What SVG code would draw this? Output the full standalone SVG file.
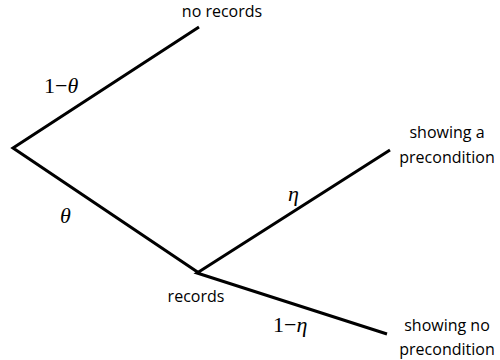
<svg xmlns="http://www.w3.org/2000/svg" width="500" height="360" viewBox="0 0 500 360">
<style>
.lbl{font-family:"Open Sans","Noto Sans",sans-serif;font-size:16px;fill:#000;text-anchor:middle}
.math{font-family:"Liberation Serif","DejaVu Serif",serif;font-size:22px;fill:#000}
.it{font-style:italic}
.edge{stroke:#000;stroke-width:3;fill:none;stroke-linecap:butt;stroke-linejoin:miter}
</style>
<rect width="500" height="360" fill="#fff"/>
<g id="connectors">
<polyline class="edge" points="199,27 13,148 199,273"/>
<polyline class="edge" points="390,150 197,273 387,334"/>
<text class="math" x="44" y="93">1−<tspan class="it">θ</tspan></text>
<text class="math it" x="60" y="223">θ</text>
<text class="math it" x="288" y="201">η</text>
<text class="math" x="273" y="332">1−<tspan class="it">η</tspan></text>
</g>
<g id="root"></g>
<g id="no-records"><text class="lbl" x="222" y="17">no records</text></g>
<g id="records"><text class="lbl" x="196" y="302">records</text></g>
<g id="showing-a"><text class="lbl" x="447" y="138">showing a</text><text class="lbl" x="447" y="163">precondition</text></g>
<g id="showing-no"><text class="lbl" x="447" y="331">showing no</text><text class="lbl" x="447" y="355">precondition</text></g>
</svg>
